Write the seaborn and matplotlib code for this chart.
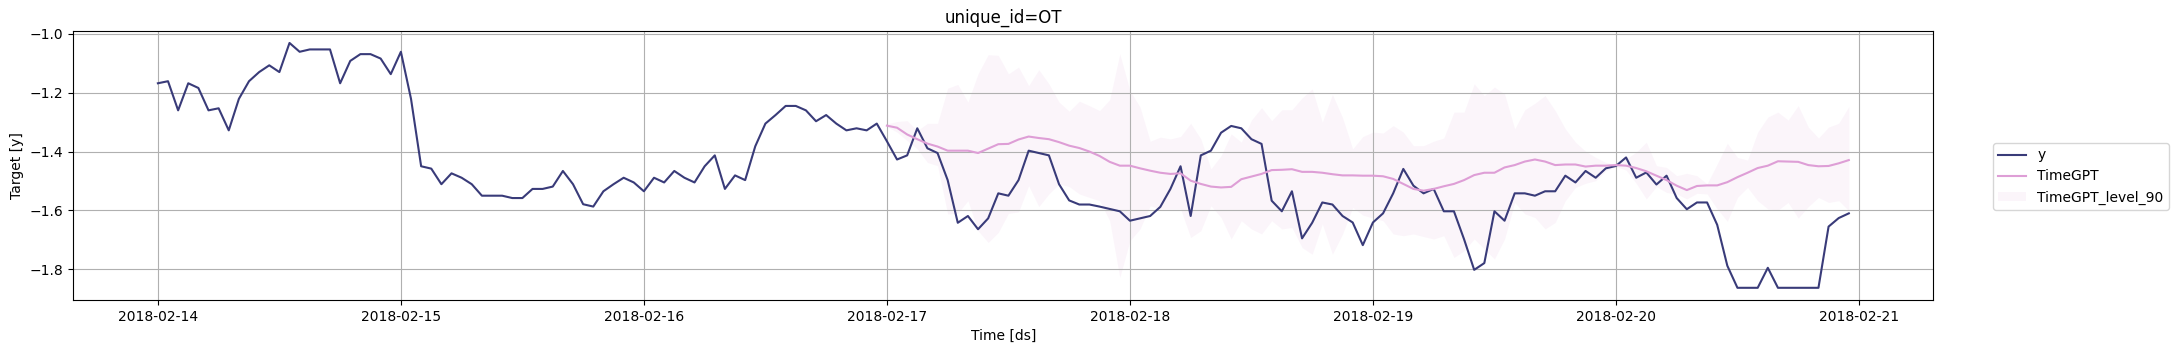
import numpy as np
import pandas as pd
import matplotlib
matplotlib.use("Agg")
import matplotlib.pyplot as plt
import matplotlib.patches as mpatches
import seaborn as sns

# ---- data ----
start = "2018-02-14 00:00"
y_values = [
    -1.168, -1.161, -1.260, -1.168, -1.184, -1.260, -1.253, -1.328, -1.221, -1.161,
    -1.130, -1.107, -1.130, -1.031, -1.061, -1.053, -1.053, -1.053, -1.168, -1.092,
    -1.069, -1.069, -1.084, -1.137, -1.061, -1.221, -1.450, -1.458, -1.511, -1.474,
    -1.489, -1.511, -1.550, -1.550, -1.550, -1.558, -1.558, -1.527, -1.527, -1.519,
    -1.466, -1.511, -1.579, -1.587, -1.535, -1.511, -1.489, -1.505, -1.535, -1.489,
    -1.505, -1.466, -1.489, -1.505, -1.450, -1.413, -1.527, -1.481, -1.497, -1.382,
    -1.305, -1.276, -1.245, -1.245, -1.260, -1.297, -1.276, -1.305, -1.328, -1.321,
    -1.328, -1.305, -1.365, -1.427, -1.413, -1.321, -1.389, -1.405, -1.497, -1.642,
    -1.619, -1.664, -1.627, -1.542, -1.550, -1.497, -1.397, -1.405, -1.413, -1.511,
    -1.566, -1.580, -1.580, -1.587, -1.595, -1.603, -1.635, -1.627, -1.619, -1.588,
    -1.527, -1.450, -1.619, -1.413, -1.397, -1.336, -1.313, -1.321, -1.358, -1.374,
    -1.567, -1.603, -1.535, -1.695, -1.642, -1.573, -1.580, -1.619, -1.641, -1.718,
    -1.641, -1.610, -1.542, -1.459, -1.516, -1.542, -1.527, -1.603, -1.603, -1.698,
    -1.802, -1.779, -1.603, -1.635, -1.542, -1.542, -1.550, -1.535, -1.535, -1.482,
    -1.505, -1.466, -1.489, -1.457, -1.449, -1.420, -1.489, -1.471, -1.512, -1.482,
    -1.558, -1.596, -1.573, -1.573, -1.649, -1.788, -1.863, -1.863, -1.863, -1.795,
    -1.863, -1.863, -1.863, -1.863, -1.863, -1.655, -1.626, -1.610,
]

forecast_start = "2018-02-17 00:00"
timegpt = [
    -1.312, -1.319, -1.342, -1.358, -1.373, -1.383, -1.397, -1.397, -1.397, -1.405,
    -1.390, -1.375, -1.374, -1.359, -1.349, -1.354, -1.358, -1.368, -1.380, -1.388,
    -1.400, -1.415, -1.435, -1.448, -1.448, -1.457, -1.465, -1.472, -1.476, -1.474,
    -1.499, -1.510, -1.519, -1.522, -1.520, -1.494, -1.485, -1.476, -1.463, -1.462,
    -1.460, -1.469, -1.469, -1.472, -1.477, -1.481, -1.481, -1.482, -1.482, -1.484,
    -1.493, -1.510, -1.527, -1.533, -1.527, -1.518, -1.510, -1.497, -1.480, -1.472,
    -1.472, -1.454, -1.446, -1.434, -1.427, -1.434, -1.446, -1.444, -1.444, -1.451,
    -1.448, -1.448, -1.446, -1.448, -1.456, -1.467, -1.482, -1.497, -1.516, -1.531,
    -1.517, -1.515, -1.515, -1.504, -1.487, -1.472, -1.456, -1.448, -1.433, -1.434,
    -1.435, -1.446, -1.450, -1.449, -1.440, -1.429,
]
timegpt_hi_90 = [
    -1.306, -1.298, -1.295, -1.329, -1.304, -1.304, -1.185, -1.172, -1.232, -1.136,
    -1.071, -1.073, -1.136, -1.113, -1.176, -1.122, -1.170, -1.232, -1.263, -1.229,
    -1.244, -1.261, -1.224, -1.068, -1.193, -1.249, -1.365, -1.351, -1.357, -1.349,
    -1.304, -1.357, -1.459, -1.414, -1.340, -1.368, -1.293, -1.251, -1.295, -1.258,
    -1.258, -1.218, -1.187, -1.300, -1.206, -1.285, -1.391, -1.349, -1.334, -1.337,
    -1.312, -1.334, -1.380, -1.380, -1.365, -1.354, -1.266, -1.266, -1.170, -1.210,
    -1.181, -1.204, -1.323, -1.258, -1.236, -1.210, -1.261, -1.323, -1.368, -1.399,
    -1.420, -1.437, -1.445, -1.425, -1.402, -1.368, -1.448, -1.454, -1.482, -1.474,
    -1.482, -1.510, -1.442, -1.372, -1.420, -1.429, -1.334, -1.283, -1.266, -1.293,
    -1.244, -1.317, -1.354, -1.317, -1.304, -1.247,
]
timegpt_lo_90 = [
    -1.315, -1.334, -1.363, -1.391, -1.437, -1.448, -1.612, -1.610, -1.567, -1.669,
    -1.709, -1.675, -1.610, -1.605, -1.516, -1.587, -1.544, -1.510, -1.519, -1.544,
    -1.556, -1.567, -1.635, -1.828, -1.703, -1.663, -1.584, -1.595, -1.595, -1.595,
    -1.692, -1.669, -1.584, -1.624, -1.697, -1.635, -1.663, -1.680, -1.635, -1.663,
    -1.658, -1.726, -1.749, -1.646, -1.749, -1.680, -1.590, -1.616, -1.626, -1.635,
    -1.680, -1.686, -1.680, -1.689, -1.697, -1.686, -1.760, -1.737, -1.697, -1.731,
    -1.765, -1.697, -1.573, -1.612, -1.624, -1.663, -1.641, -1.567, -1.522, -1.508,
    -1.499, -1.465, -1.451, -1.463, -1.508, -1.561, -1.519, -1.539, -1.544, -1.561,
    -1.542, -1.544, -1.595, -1.637, -1.556, -1.522, -1.567, -1.595, -1.599, -1.573,
    -1.626, -1.587, -1.556, -1.573, -1.567, -1.601,
]

title = "unique_id=OT"
x_label = "Time [ds]"
y_label = "Target [y]"

# ---- frames ----
hist = pd.DataFrame({
    "ds": pd.date_range(start, periods=len(y_values), freq="h"),
    "y": y_values,
})
fc = pd.DataFrame({
    "ds": pd.date_range(forecast_start, periods=len(timegpt), freq="h"),
    "TimeGPT": timegpt,
    "lo": timegpt_lo_90,
    "hi": timegpt_hi_90,
})

c_y = "#393b79"
c_m = "#de9ed6"

fig = plt.figure(figsize=(21.76, 3.53), dpi=100)
ax = fig.add_axes([0.0337, 0.150, 0.8548, 0.763])

sns.lineplot(data=hist, x="ds", y="y", ax=ax, color=c_y, linewidth=1.5, label="y")
sns.lineplot(data=fc, x="ds", y="TimeGPT", ax=ax, color=c_m, linewidth=1.5, label="TimeGPT")
ax.fill_between(fc["ds"], fc["lo"], fc["hi"], color=c_m, alpha=0.1, linewidth=0)

ax.grid(True)
ax.set_title(title, fontsize=12)
ax.set_xlabel(x_label)
ax.set_ylabel(y_label)

leg = ax.get_legend()
if leg is not None:
    leg.remove()
handles = [
    plt.Line2D([], [], color=c_y, linewidth=1.5),
    plt.Line2D([], [], color=c_m, linewidth=1.5),
    mpatches.Patch(color=c_m, alpha=0.1, linewidth=0),
]
labels = ["y", "TimeGPT", "TimeGPT_level_90"]
fig.legend(handles, labels, loc="center left", bbox_to_anchor=(0.9158, 0.5),
           borderaxespad=0)

fig.savefig("out.png", dpi=100)
